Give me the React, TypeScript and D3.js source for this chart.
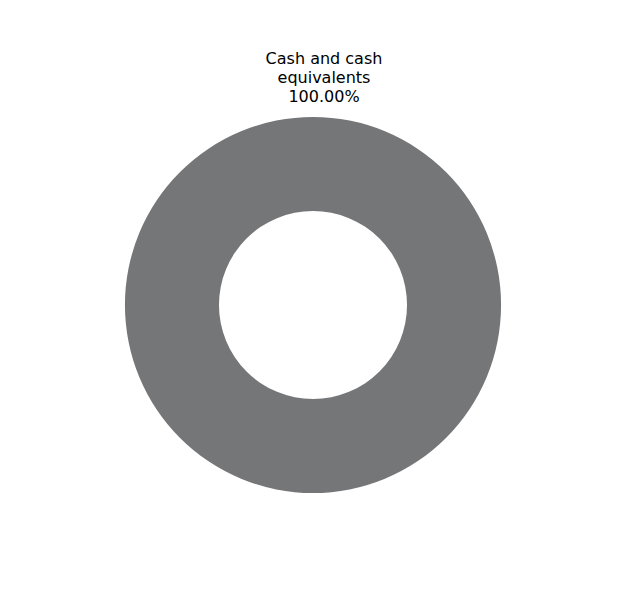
import { useEffect, useRef } from 'react';
import * as d3 from 'd3';

const categories = ['Cash and cash equivalents'];
const values = [100];
const labelLines = [['Cash and cash', 'equivalents', '100.00%']];
const colors = ['#757678'];

export default function App() {
  const ref = useRef<SVGSVGElement | null>(null);
  useEffect(() => {
    const svg = d3.select(ref.current!);
    svg.selectAll('*').remove();
    const w = 626, h = 597;
    svg.attr('viewBox', `0 0 ${w} ${h}`);
    const cx = 313, cy = 305, outer = 188, inner = 94;
    const g = svg.append('g').attr('transform', `translate(${cx},${cy})`);
    const pie = d3.pie<number>().sort(null).value((d) => d);
    const arc = d3.arc<d3.PieArcDatum<number>>().innerRadius(inner).outerRadius(outer);
    const arcs = pie(values);
    g.selectAll('path').data(arcs).enter().append('path')
      .attr('d', arc).attr('fill', (_, i) => colors[i % colors.length])
      .append('title').text((_, i) => `${categories[i]}: ${values[i].toFixed(2)}%`);

    const lbl = svg.append('text').attr('x', 324).attr('y', 63.5)
      .attr('text-anchor', 'middle').attr('font-family', 'DejaVu Sans, Verdana, sans-serif')
      .attr('font-size', 16).attr('fill', '#000');
    labelLines[0].forEach((t, i) => {
      lbl.append('tspan').attr('x', 324).attr('dy', i === 0 ? 0 : 19.2).text(t);
    });
  }, []);
  return <svg ref={ref} width={626} height={597} style={{ position: 'absolute', left: 0, top: 0, background: '#fff' }} />;
}
